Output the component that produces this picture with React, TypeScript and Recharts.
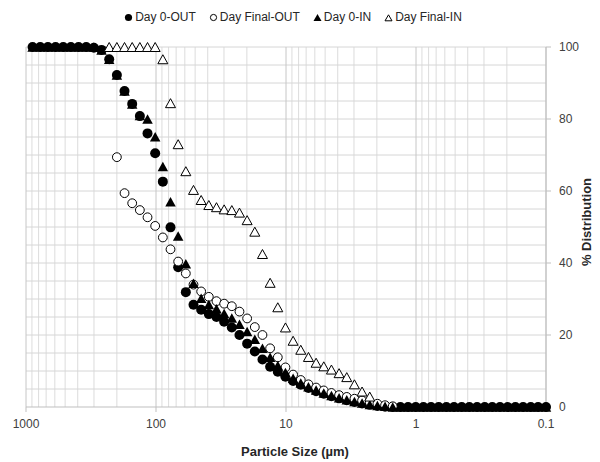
import { ScatterChart, Scatter, XAxis, YAxis, ReferenceLine } from 'recharts';

// particle size classes (µm), largest first
const sizes = [
  890.12, 777.14, 678.5, 592.39, 517.2, 451.55, 394.24, 344.2, 300.51, 262.37,
  229.07, 200.0, 174.61, 152.45, 133.1, 116.21, 101.46, 88.583, 77.339, 67.523,
  58.953, 51.471, 44.938, 39.234, 34.255, 29.907, 26.111, 22.797, 19.904, 17.377,
  15.172, 13.246, 11.565, 10.097, 8.816, 7.697, 6.72, 5.867, 5.122, 4.472,
  3.905, 3.409, 2.976, 2.599, 2.269, 1.981, 1.729, 1.51, 1.318, 1.151,
  1.005, 0.877, 0.766, 0.669, 0.584, 0.51, 0.445, 0.389, 0.339, 0.296,
  0.259, 0.226, 0.197, 0.172, 0.15, 0.131, 0.115, 0.1,
];

const day0Out = [
  100, 100, 100, 100, 100, 100, 100, 100, 99.8, 99.2,
  96.6, 92.2, 87.8, 84.2, 80.8, 76.0, 70.5, 62.6, 49.9, 38.8,
  31.9, 28.4, 27.0, 25.8, 25.0, 23.7, 22.1, 20.0, 17.6, 15.4,
  13.2, 11.2, 9.8, 8.4, 7.2, 6.2, 5.3, 4.4, 3.7, 3.0,
  2.4, 1.9, 1.4, 1.0, 0.6, 0.3, 0.1, 0, 0, 0,
  0, 0, 0, 0, 0, 0, 0, 0, 0, 0,
  0, 0, 0, 0, 0, 0, 0, 0,
];

const dayFinalOut = [
  null, null, null, null, null, null, null, null, null, null,
  null, 69.4, 59.4, 56.6, 54.7, 52.7, 50.3, 47.1, 43.8, 40.4,
  37.1, 34.0, 32.1, 30.6, 29.4, 28.7, 28.0, 26.5, 24.6, 22.2,
  20.0, 16.3, 13.8, 11.0, 9.0, 7.5, 6.3, 5.4, 4.6, 3.9,
  3.3, 2.8, 2.3, 1.8, 1.3, 0.9, 0.5, 0.2, null, null,
  null, null, null, null, null, null, null, null, null, null,
  null, null, null, null, null, null, null, null,
];

const day0In = [
  100, 100, 100, 100, 100, 100, 100, 100, 100, 99.2,
  96.6, 92.2, 87.8, 84.2, 81.0, 80.0, 75.1, 66.8, 57.0, 47.5,
  39.8, 34.4, 30.2, 28.5, 27.3, 26.0, 24.7, 23.0, 21.0, 18.8,
  16.3, 13.8, 11.5, 9.6, 8.0, 6.7, 5.6, 4.7, 3.9, 3.2,
  2.6, 2.0, 1.5, 1.1, 0.7, 0.4, 0.2, 0, 0, 0,
  0, 0, 0, 0, 0, 0, 0, 0, 0, 0,
  0, 0, 0, 0, 0, 0, 0, 0,
];

const dayFinalIn = [
  null, null, null, null, null, null, null, null, null, null,
  100, 100, 100, 100, 100, 100, 100, 96.6, 84.4, 73.0,
  65.5, 60.3, 57.5, 56.1, 55.5, 54.9, 54.7, 54.0, 51.9, 48.7,
  42.5, 34.5, 27.7, 22.1, 18.4, 15.9, 13.9, 12.3, 11.3, 10.4,
  9.4, 8.3, 6.3, 4.3, 2.9, null, null, null, null, null,
  null, null, null, null, null, null, null, null, null, null,
  null, null, null, null, null, null, null, null,
];

const xTicks = [1000, 100, 10, 1, 0.1];
const xTickLabels = ['1000', '100', '10', '1', '0.1'];
const yTicks = [0, 20, 40, 60, 80, 100];

const xMajorGrid = [1000, 100, 10, 1, 0.1];
const xMinorGrid = [
  900, 800, 700, 600, 500, 400, 300, 200,
  90, 80, 70, 60, 50, 40, 30, 20,
  9, 8, 7, 6, 5, 4, 3, 2,
  0.9, 0.8, 0.7, 0.6, 0.5, 0.4, 0.3, 0.2,
];
const yGrid = [5, 10, 15, 20, 25, 30, 35, 40, 45, 50, 55, 60, 65, 70, 75, 80, 85, 90, 95, 100];

const seriesNames = ['Day 0-OUT', 'Day Final-OUT', 'Day 0-IN', 'Day Final-IN'];

const FONT = '"Liberation Sans", Arial, Helvetica, sans-serif';

function toPoints(values: (number | null)[]) {
  return sizes
    .map((s, i) => ({ x: s, y: values[i] }))
    .filter((p) => p.y !== null);
}

function FilledCircle({ cx, cy }: any) {
  return <circle cx={cx} cy={cy} r={5} fill="#000" />;
}

function OpenCircle({ cx, cy }: any) {
  return <circle cx={cx} cy={cy} r={4.4} fill="#fff" stroke="#000" strokeWidth={1} />;
}

function triPath(cx: number, cy: number, w: number, h: number) {
  return `M${cx},${cy - h / 2} L${cx + w / 2},${cy + h / 2} L${cx - w / 2},${cy + h / 2} Z`;
}

function FilledTriangle({ cx, cy }: any) {
  return <path d={triPath(cx, cy, 10.5, 9.5)} fill="#000" />;
}

function OpenTriangle({ cx, cy }: any) {
  return <path d={triPath(cx, cy, 10, 9)} fill="#fff" stroke="#000" strokeWidth={1} />;
}

function LegendMark({ kind }: { kind: number }) {
  return (
    <svg width={9} height={9} style={{ display: 'block' }}>
      {kind === 0 && <circle cx={4.5} cy={4.5} r={3.6} fill="#000" />}
      {kind === 1 && <circle cx={4.5} cy={4.5} r={3.1} fill="#fff" stroke="#000" strokeWidth={1} />}
      {kind === 2 && <path d={triPath(4.5, 4.5, 8, 7)} fill="#000" />}
      {kind === 3 && <path d={triPath(4.5, 4.8, 7, 6)} fill="#fff" stroke="#000" strokeWidth={1} />}
    </svg>
  );
}

export default function App() {
  return (
    <div
      style={{
        position: 'absolute',
        left: 0,
        top: 0,
        width: 600,
        height: 462,
        background: '#fff',
        fontFamily: FONT,
      }}
    >
      {/* legend */}
      <div
        style={{
          position: 'absolute',
          top: 9,
          left: 0,
          width: 586,
          display: 'flex',
          justifyContent: 'center',
          gap: 13,
          fontSize: 12,
          color: '#262626',
          lineHeight: '16px',
        }}
      >
        {seriesNames.map((name, i) => (
          <div key={name} style={{ display: 'flex', alignItems: 'center', gap: 2 }}>
            <LegendMark kind={i} />
            <span>{name}</span>
          </div>
        ))}
      </div>

      <ScatterChart width={600} height={462} margin={{ top: 47, right: 0, bottom: 0, left: 26 }}>
        {xMinorGrid.map((v) => (
          <ReferenceLine key={'xm' + v} x={v} stroke="#dcdcdc" strokeWidth={1} />
        ))}
        {yGrid.map((v) => (
          <ReferenceLine key={'y' + v} y={v} stroke="#d6d6d6" strokeWidth={1} />
        ))}
        {xMajorGrid.map((v) => (
          <ReferenceLine key={'xM' + v} x={v} stroke="#c6c6c6" strokeWidth={1} />
        ))}

        <XAxis
          dataKey="x"
          type="number"
          scale="log"
          domain={[0.1, 1000]}
          reversed
          ticks={xTicks}
          interval={0}
          tickFormatter={(v: number) => xTickLabels[xTicks.indexOf(v)] ?? String(v)}
          height={55}
          tickSize={5}
          tickMargin={7}
          axisLine={{ stroke: '#bfbfbf' }}
          tickLine={{ stroke: '#bfbfbf' }}
          tick={{ fill: '#404040', fontSize: 12, fontFamily: FONT }}
          label={{
            content: (p: any) => {
              const vb = p.viewBox;
              return (
                <text
                  x={vb.x + vb.width / 2 + 9}
                  y={vb.y + vb.height - 6}
                  textAnchor="middle"
                  fontSize={13}
                  fontWeight="bold"
                  fill="#262626"
                  fontFamily={FONT}
                >
                  Particle Size (µm)
                </text>
              );
            },
          }}
        />
        <YAxis
          dataKey="y"
          type="number"
          orientation="right"
          domain={[0, 100]}
          ticks={yTicks}
          interval={0}
          width={54}
          tickSize={5}
          tickMargin={8}
          axisLine={{ stroke: '#bfbfbf' }}
          tickLine={{ stroke: '#bfbfbf' }}
          tick={{ fill: '#404040', fontSize: 12, fontFamily: FONT }}
          label={{
            content: (p: any) => {
              const vb = p.viewBox;
              const lx = vb.x + vb.width - 9;
              const ly = vb.y + vb.height / 2 - 5;
              return (
                <text
                  x={lx}
                  y={ly}
                  transform={`rotate(-90, ${lx}, ${ly})`}
                  textAnchor="middle"
                  fontSize={13}
                  fontWeight="bold"
                  fill="#262626"
                  fontFamily={FONT}
                >
                  % Distribution
                </text>
              );
            },
          }}
        />

        <Scatter name={seriesNames[0]} data={toPoints(day0Out)} shape={FilledCircle} isAnimationActive={false} />
        <Scatter name={seriesNames[1]} data={toPoints(dayFinalOut)} shape={OpenCircle} isAnimationActive={false} />
        <Scatter name={seriesNames[2]} data={toPoints(day0In)} shape={FilledTriangle} isAnimationActive={false} />
        <Scatter name={seriesNames[3]} data={toPoints(dayFinalIn)} shape={OpenTriangle} isAnimationActive={false} />
      </ScatterChart>
    </div>
  );
}
